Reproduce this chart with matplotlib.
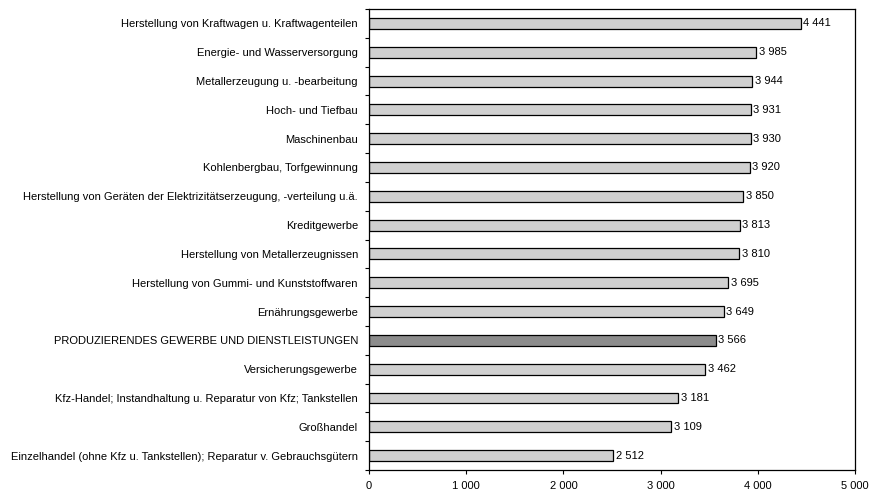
import matplotlib.pyplot as plt
import numpy as np

# Branchen und Werte (von oben nach unten)
branchen = [
    "Herstellung von Kraftwagen u. Kraftwagenteilen",
    "Energie- und Wasserversorgung",
    "Metallerzeugung u. -bearbeitung",
    "Hoch- und Tiefbau",
    "Maschinenbau",
    "Kohlenbergbau, Torfgewinnung",
    "Herstellung von Geräten der Elektrizitätserzeugung, -verteilung u.ä.",
    "Kreditgewerbe",
    "Herstellung von Metallerzeugnissen",
    "Herstellung von Gummi- und Kunststoffwaren",
    "Ernährungsgewerbe",
    "PRODUZIERENDES GEWERBE UND DIENSTLEISTUNGEN",
    "Versicherungsgewerbe",
    "Kfz-Handel; Instandhaltung u. Reparatur von Kfz; Tankstellen",
    "Großhandel",
    "Einzelhandel (ohne Kfz u. Tankstellen); Reparatur v. Gebrauchsgütern",
]
werte = [4441, 3985, 3944, 3931, 3930, 3920, 3850, 3813, 3810, 3695,
         3649, 3566, 3462, 3181, 3109, 2512]
gesamt = "PRODUZIERENDES GEWERBE UND DIENSTLEISTUNGEN"
x_ticks = [0, 1000, 2000, 3000, 4000, 5000]


def fmt(v):
    return f"{v:,}".replace(",", " ")


plt.rcParams["font.family"] = ["Liberation Sans", "DejaVu Sans"]
fs = 8

fig = plt.figure(figsize=(8.85, 4.92), dpi=100)
ax = fig.add_axes([0.417, 0.0447, 0.549, 0.937])

n = len(branchen)
y = np.arange(n)
farben = ["#8c8c8c" if b == gesamt else "#d0d0d0" for b in branchen]
ax.barh(y, werte, height=0.38, color=farben, edgecolor="black",
        linewidth=0.9)

for yi, v in zip(y, werte):
    ax.text(v + 25, yi, fmt(v), va="center", ha="left", fontsize=fs)

ax.set_ylim(n - 0.5, -0.5)
ax.set_xlim(0, 5000)

ax.set_yticks(y)
ax.set_yticklabels(branchen, fontsize=fs)
ax.set_yticks(np.arange(n + 1) - 0.5, minor=True)
ax.tick_params(axis="y", which="major", length=0, pad=8)
ax.tick_params(axis="y", which="minor", length=3, width=0.8, direction="out")

ax.set_xticks(x_ticks)
ax.set_xticklabels([fmt(t) for t in x_ticks], fontsize=fs)
ax.tick_params(axis="x", length=3, width=0.8, direction="out", pad=5)

for s in ax.spines.values():
    s.set_linewidth(0.9)

fig.savefig("out.png", dpi=100)
